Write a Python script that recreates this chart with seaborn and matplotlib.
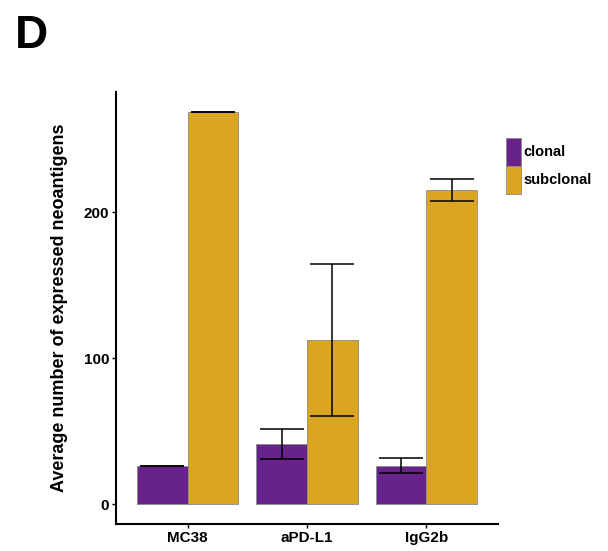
import pandas as pd
import numpy as np
import matplotlib
matplotlib.use('Agg')
import matplotlib.pyplot as plt
import seaborn as sns

# Данные (средние и стандартное отклонение)
groups = ['MC38', 'aPD-L1', 'IgG2b']
clonality = ['clonal', 'subclonal']
clonal_mean = [26.5, 41.5, 26.5]
clonal_sd = [0, 10.3, 5.2]
subclonal_mean = [269, 112.5, 215]
subclonal_sd = [0, 52, 7.5]
palette = {'clonal': '#68228B', 'subclonal': '#DAA520'}

df = pd.DataFrame({
    'group': groups * 2,
    'clonality': ['clonal'] * 3 + ['subclonal'] * 3,
    'mean': clonal_mean + subclonal_mean,
    'sd': clonal_sd + subclonal_sd,
})

sns.set_style('white')
plt.rcParams['font.family'] = ['Liberation Sans', 'DejaVu Sans']
plt.rcParams['text.color'] = 'black'
plt.rcParams['axes.labelcolor'] = 'black'
plt.rcParams['xtick.color'] = 'black'
plt.rcParams['ytick.color'] = 'black'

fig = plt.figure(figsize=(6.08, 5.51), dpi=100)
ax = fig.add_axes([0.191, 0.049, 0.628, 0.784])

sns.barplot(data=df, x='group', y='mean', hue='clonality', order=groups,
            hue_order=clonality, palette=palette, width=0.85, errorbar=None,
            edgecolor='#8a8a8a', linewidth=0.6, saturation=1, ax=ax)

# Планки ошибок по центрам столбцов
for bars, cl in zip(ax.containers, clonality):
    sub = df[df['clonality'] == cl].set_index('group').loc[groups]
    xs = [b.get_x() + b.get_width() / 2 for b in bars]
    ax.errorbar(xs, sub['mean'], yerr=sub['sd'], fmt='none', ecolor='black',
                elinewidth=1.1, capsize=15.5, capthick=1.1, zorder=5)

ax.set_xlim(-0.6, 2.6)
ax.set_ylim(-13.45, 282.4)
ax.set_yticks([0, 100, 200])
ax.set_xlabel('')
ax.set_ylabel('Average number of expressed neoantigens', fontsize=13,
              fontweight='bold', labelpad=11)
ax.tick_params(axis='both', labelsize=11, length=3, width=1, color='black',
               direction='out', pad=2)
ax.tick_params(axis='y', left=True)
ax.tick_params(axis='x', bottom=True)
for lab in ax.get_xticklabels() + ax.get_yticklabels():
    lab.set_fontweight('bold')

sns.despine(ax=ax)
for side in ['left', 'bottom']:
    ax.spines[side].set_linewidth(1.5)
    ax.spines[side].set_color('black')

sns.move_legend(ax, 'upper left', bbox_to_anchor=(1.005, 0.907), frameon=False,
                title=None, fontsize=10.5, handlelength=1.05, handleheight=2.57,
                labelspacing=0.0, handletextpad=0.15, borderaxespad=0)
for t in ax.get_legend().get_texts():
    t.set_fontweight('bold')

fig.text(0.025, 0.975, 'D', fontsize=33, fontweight='bold', va='top', ha='left')

fig.savefig('out.png', dpi=100)
